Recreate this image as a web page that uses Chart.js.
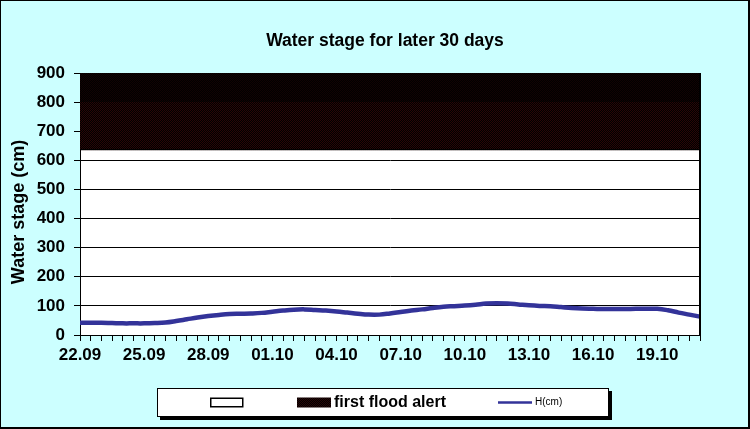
<!DOCTYPE html>
<html>
<head>
<meta charset="utf-8">
<script src="https://cdn.jsdelivr.net/npm/chart.js@4.4.1/dist/chart.umd.min.js"></script>
<style>
  html, body { margin: 0; padding: 0; background: #ccffff; }
  #wrap { width: 750px; height: 429px; position: relative; }
  canvas { display: block; }
</style>
</head>
<body>
<div id="wrap"><canvas id="c" width="750" height="429"></canvas></div>
<script>
// ---------- data ----------
const chartTitle = 'Water stage for later 30 days';
const yAxisTitle = 'Water stage (cm)';
const days = ['22.09','23.09','24.09','25.09','26.09','27.09','28.09','29.09','30.09','01.10',
              '02.10','03.10','04.10','05.10','06.10','07.10','08.10','09.10','10.10','11.10',
              '12.10','13.10','14.10','15.10','16.10','17.10','18.10','19.10','20.10','21.10'];
// two readings per day (00h and 12h)
const categories = days.flatMap((d, i) => i < days.length - 1 ? [d + ' 00h', d + ' 12h'] : [d + ' 00h']);
const tickLabels = ['22.09','25.09','28.09','01.10','04.10','07.10','10.10','13.10','16.10','19.10'];
const waterLevel = [42, 42, 42, 41, 40, 40, 40, 41, 43, 48,
                    54, 60, 65, 69, 72, 73, 74, 76, 80, 84,
                    87, 88, 86, 84, 81, 77, 73, 70, 70, 74,
                    79, 84, 88, 93, 97, 99, 101, 104, 108, 109,
                    108, 105, 102, 100, 99, 96, 93, 91, 90, 89,
                    89, 89, 90, 90, 90, 85, 77, 70, 63];
const floodAlertLevel = 635;
const bandSplitLevel = 800;
const axisMax = 900;
const yTicks = [0, 100, 200, 300, 400, 500, 600, 700, 800, 900];

// ---------- patterns ----------
function makePattern(base, dot) {
  const p = document.createElement('canvas');
  p.width = 4; p.height = 4;
  const g = p.getContext('2d');
  g.fillStyle = base; g.fillRect(0, 0, 4, 4);
  g.fillStyle = dot;
  g.fillRect(0, 0, 1, 1); g.fillRect(2, 0, 1, 1);
  g.fillRect(1, 1, 1, 1); g.fillRect(3, 1, 1, 1);
  g.fillRect(0, 2, 1, 1); g.fillRect(2, 2, 1, 1);
  g.fillRect(1, 3, 1, 1); g.fillRect(3, 3, 1, 1);
  return g.createPattern(p, 'repeat');
}
const ctx = document.getElementById('c').getContext('2d');
const upperPattern = makePattern('#000000', '#120202');
const lowerPattern = makePattern('#000000', '#2a0606');

const FONT = "'Liberation Sans', Arial, sans-serif";

const bgPlugin = {
  id: 'bg',
  beforeDraw(chart) {
    const c = chart.ctx, a = chart.chartArea;
    c.save();
    c.fillStyle = '#ccffff';
    c.fillRect(0, 0, chart.width, chart.height);
    c.fillStyle = '#ffffff';
    c.fillRect(a.left, a.top, a.right - a.left, a.bottom - a.top);
    c.restore();
  },
  afterDatasetsDraw(chart) {
    const c = chart.ctx, a = chart.chartArea;
    c.save();
    c.strokeStyle = '#000';
    c.lineWidth = 2;
    c.beginPath();
    c.moveTo(a.right, a.top);
    c.lineTo(a.right, a.bottom + 1);
    c.stroke();
    // band lower edge
    const yb = chart.scales.y.getPixelForValue(floodAlertLevel);
    c.lineWidth = 1;
    c.beginPath();
    c.moveTo(a.left, Math.round(yb) - 0.5);
    c.lineTo(a.right, Math.round(yb) - 0.5);
    c.stroke();
    c.restore();
  },
  afterDraw(chart) {
    const c = chart.ctx;
    const W = chart.width, H = chart.height;
    const a = chart.chartArea;
    c.save();
    // title
    c.fillStyle = '#000';
    c.font = 'bold 17.5px ' + FONT;
    c.textAlign = 'center';
    c.textBaseline = 'middle';
    c.fillText(chartTitle, 385, 41);
    // y-axis title
    c.save();
    c.translate(19, (a.top + a.bottom) / 2 + 8);
    c.rotate(-Math.PI / 2);
    c.font = 'bold 18px ' + FONT;
    c.fillText(yAxisTitle, 0, 0);
    c.restore();

    // outer frame
    c.fillStyle = '#000';
    c.fillRect(0, 0, W, 1);
    c.fillRect(0, 0, 1, H);
    c.fillRect(W - 2, 0, 2, H);
    c.fillRect(0, H - 2, W, 2);

    // legend box
    const lx = 157, ly = 388, lw = 452, lh = 29;
    c.fillStyle = '#000';
    c.fillRect(lx + 3, ly + 3, lw, lh);
    c.fillStyle = '#fff';
    c.fillRect(lx, ly, lw, lh);
    c.strokeStyle = '#000';
    c.lineWidth = 1;
    c.strokeRect(lx + 0.5, ly + 0.5, lw - 1, lh - 1);

    const ds = chart.data.datasets;
    const cy = ly + 14.5;
    // item 1: white area (empty label)
    c.fillStyle = '#fff';
    c.fillRect(210, cy - 4.5, 33, 9);
    c.lineWidth = 1.5;
    c.strokeRect(210.75, cy - 4.25, 32, 8.5);
    // item 2: flood alert band
    c.fillStyle = lowerPattern;
    c.fillRect(297, cy - 5, 34, 10);
    c.fillStyle = '#000';
    c.font = 'bold 16px ' + FONT;
    c.textBaseline = 'middle';
    c.textAlign = 'left';
    c.fillText(ds[1].label, 334, cy);
    // item 3: water level line
    c.strokeStyle = '#333399';
    c.lineWidth = 2.5;
    c.beginPath();
    c.moveTo(498, cy); c.lineTo(532, cy);
    c.stroke();
    c.fillStyle = '#000';
    c.font = '10px ' + FONT;
    c.fillText(ds[0].label, 535, cy);
    c.restore();
  }
};

new Chart(ctx, {
  type: 'line',
  data: {
    labels: categories,
    datasets: [
      {
        label: 'H(cm)',
        data: waterLevel,
        borderColor: '#333399',
        borderWidth: 4.5,
        pointRadius: 0,
        tension: 0.4,
        fill: false,
        order: 0
      },
      {
        label: 'first flood alert',
        data: categories.map(() => bandSplitLevel),
        borderWidth: 0,
        borderColor: 'rgba(0,0,0,0)',
        pointRadius: 0,
        backgroundColor: lowerPattern,
        fill: { value: floodAlertLevel },
        order: 2
      },
      {
        label: '',
        data: categories.map(() => axisMax),
        borderWidth: 0,
        borderColor: 'rgba(0,0,0,0)',
        pointRadius: 0,
        backgroundColor: upperPattern,
        fill: { value: bandSplitLevel },
        order: 1
      }
    ]
  },
  options: {
    responsive: false,
    animation: false,
    devicePixelRatio: 1,
    layout: { padding: { top: 73, left: 0, right: 50, bottom: 0 } },
    plugins: {
      legend: { display: false },
      tooltip: { enabled: false },
      title: { display: false }
    },
    scales: {
      x: {
        type: 'category',
        offset: false,
        grid: { display: true, drawOnChartArea: false, drawTicks: true, tickLength: 6, color: '#000', lineWidth: 1 },
        border: { display: true, color: '#000', width: 1 },
        ticks: {
          autoSkip: false,
          maxRotation: 0,
          minRotation: 0,
          padding: 4,
          color: '#000',
          font: { family: FONT, size: 17, weight: 'bold' },
          callback: function (val, idx) {
            const cat = categories[idx];
            const d = cat.slice(0, 5);
            return (cat.endsWith('00h') && tickLabels.includes(d)) ? d : '';
          }
        },
        afterFit(scale) { scale.height = 94; }
      },
      y: {
        min: 0,
        max: axisMax,
        afterBuildTicks(scale) { scale.ticks = yTicks.map(v => ({ value: v })); },
        grid: { display: true, drawOnChartArea: true, drawTicks: true, tickLength: 6, color: '#000', lineWidth: 1 },
        border: { display: true, color: '#000', width: 1 },
        ticks: {
          padding: 9,
          color: '#000',
          font: { family: FONT, size: 17, weight: 'bold' }
        },
        title: { display: false },
        afterFit(scale) { scale.width = 80; }
      }
    }
  },
  plugins: [bgPlugin]
});
</script>
</body>
</html>
